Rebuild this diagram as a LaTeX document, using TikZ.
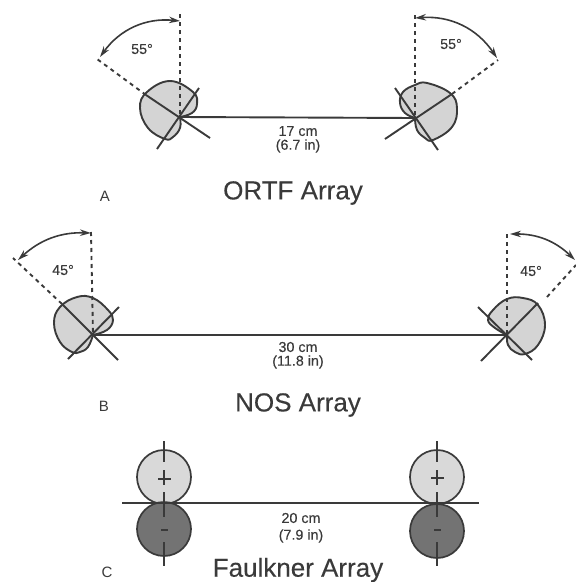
\documentclass[tikz,border=0pt]{standalone}
\usepackage{fontspec}
\setmainfont{Liberation Sans}
\newfontfamily\heavy[FakeBold=0.25]{Liberation Sans}
\usetikzlibrary{arrows.meta}
\definecolor{ink}{HTML}{3A3A3A}
\tikzset{
  blob/.style={draw=ink,fill=black!17,line width=1.9pt,line join=round},
  micline/.style={draw=ink,line width=1.9pt},
  guide/.style={draw=ink,line width=1.9pt,dash pattern=on 4pt off 4pt},
  sweep/.style={draw=ink,line width=1.6pt,{Stealth[length=11pt,width=6.5pt]}-{Stealth[length=11pt,width=6.5pt]}},
  base/.style={draw=ink,line width=1.9pt},
  small/.style={text=ink,font=\heavy\fontsize{14.3}{16}\selectfont,inner sep=0pt,anchor=center},
  title/.style={text=ink,font=\heavy\fontsize{26}{30}\selectfont,inner sep=0pt,anchor=center},
  letter/.style={text=ink,font=\fontsize{15}{17}\selectfont,inner sep=0pt,anchor=center},
  poslobe/.style={draw=ink,fill=black!15,line width=1.7pt},
  neglobe/.style={draw=ink,fill=black!55,line width=1.7pt},
}
\begin{document}
\begin{tikzpicture}[x=1pt,y=-1pt]
\useasboundingbox (0,0) rectangle (576,582);
% ORTF
\coordinate (oL) at (180,117); \coordinate (oR) at (415,118);
\coordinate (oLtop) at (180,14); \coordinate (oRtop) at (415,15);
\coordinate (oLend) at (97,59); \coordinate (oRend) at (498,60);
\coordinate (oLa) at (180,21); \coordinate (oLb) at (100,57);
\coordinate (oRa) at (415,18); \coordinate (oRb) at (497,58);
\draw[blob] plot[smooth,tension=.7] coordinates {(180,117)(192,113)(197,104)(193,92)(170,81)(147,92)(140,108)(148,128)(165,139)(173,137)(180,128)(180,117)};
\draw[blob] plot[smooth,tension=.7] coordinates {(415,118)(405,113)(400,103)(403,92)(415,85)(427,83)(450,93)(457,108)(452,127)(433,140)(425,138)(417,130)(415,118)};
\draw[micline] (199,88) -- (157,149);
\draw[micline] (146,95) -- (210,138);
\draw[micline] (395,88) -- (438,150);
\draw[micline] (385,139) -- (452,94);
\draw[base] (oL) -- (oR);
\draw[guide] (oLtop) -- (oL);
\draw[guide] (oRtop) -- (oR);
\draw[guide] (146,95) -- (oLend);
\draw[guide] (452,94) -- (oRend);
\draw[sweep] (oLa) to[bend right=30] (oLb);
\draw[sweep] (oRa) to[bend left=30] (oRb);
\node[small] (o55l) at (142,49) {55°};
\node[small] (o55r) at (451,44) {55°};
\node[small] (odist) at (298,131) {17 cm};
\node[small] (odistb) at (298,146) {(6.7 in)};
\node[letter] (la) at (105,196) {A};
\node[title] (ot) at (293,193) {ORTF Array};
% NOS
\coordinate (nL) at (93,335); \coordinate (nR) at (507,335);
\coordinate (nLtop) at (91,232); \coordinate (nRtop) at (507,234);
\coordinate (nLend) at (13,258); \coordinate (nRend) at (576,265);
\coordinate (nLa) at (91,233); \coordinate (nLb) at (18,260);
\coordinate (nRa) at (510,234); \coordinate (nRb) at (575,260);
\draw[blob] plot[smooth,tension=.7] coordinates {(93,335)(107,330)(113,320)(108,310)(93,298)(77,297)(60,307)(54,323)(60,342)(72,352)(80,352)(88,347)(93,335)};
\draw[blob] plot[smooth,tension=.7] coordinates {(507,335)(495,328)(488,320)(493,310)(507,299)(523,298)(538,305)(545,325)(538,345)(525,354)(515,352)(508,345)(507,335)};
\draw[micline] (119,307) -- (68,359);
\draw[micline] (62,304) -- (118,360);
\draw[micline] (478,307) -- (532,360);
\draw[micline] (481,361) -- (538,303);
\draw[base] (nL) -- (nR);
\draw[guide] (nLtop) -- (nL);
\draw[guide] (nRtop) -- (nR);
\draw[guide] (62,304) -- (nLend);
\draw[guide] (547,297) -- (nRend);
\draw[sweep] (nLa) to[bend right=22] (nLb);
\draw[sweep] (nRa) to[bend left=22] (nRb);
\node[small] (n45l) at (63,270) {45°};
\node[small] (n45r) at (531,271) {45°};
\node[small] (ndist) at (298,347) {30 cm};
\node[small] (ndistb) at (298,362) {(11.8 in)};
\node[letter] (lb) at (104,406) {B};
\node[title] (nt) at (298,405) {NOS Array};
% Faulkner
\node[poslobe,circle,minimum size=54pt,inner sep=0pt] (fLp) at (164,477) {};
\node[neglobe,circle,minimum size=54pt,inner sep=0pt] (fLn) at (164,529) {};
\node[poslobe,circle,minimum size=54pt,inner sep=0pt] (fRp) at (437,477) {};
\node[neglobe,circle,minimum size=54pt,inner sep=0pt] (fRn) at (437,531) {};
\coordinate (fa) at (122,503); \coordinate (fb) at (479,503);
\draw[base] (fa) -- (fb);
\draw[micline] (164,441) -- (164,462);
\draw[micline] (164,470) -- (164,485);
\draw[micline] (158,479) -- (171,479);
\draw[micline] (164,492) -- (164,517);
\draw[micline] (161,530) -- (168,530);
\draw[micline] (164,542) -- (164,566);
\draw[micline] (437,441) -- (437,462);
\draw[micline] (437,470) -- (437,485);
\draw[micline] (431,478) -- (444,478);
\draw[micline] (437,492) -- (437,517);
\draw[micline] (434,530) -- (441,530);
\draw[micline] (437,542) -- (437,566);
\node[small] (fdist) at (301,518) {20 cm};
\node[small] (fdistb) at (301,536) {(7.9 in)};
\node[letter] (lc) at (107,572) {C};
\node[title] (ft) at (298,570) {Faulkner Array};
\end{tikzpicture}
\end{document}
